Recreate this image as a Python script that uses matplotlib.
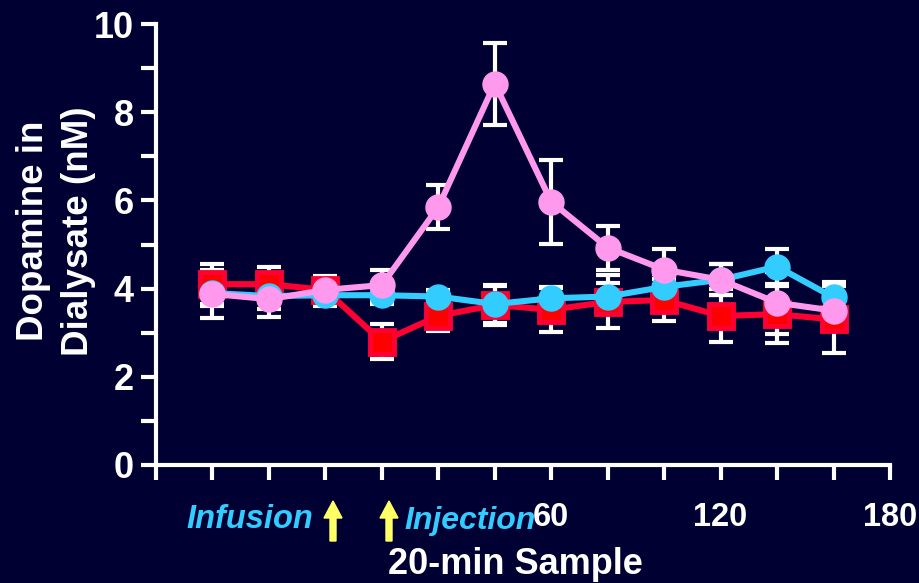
import matplotlib
matplotlib.use("Agg")
import matplotlib.pyplot as plt
import numpy as np

# ---- data ----
time_min = [-60, -40, -20, 0, 20, 40, 60, 80, 100, 120, 140, 160]
red_vals = [4.1, 4.1, 3.97, 2.8, 3.38, 3.63, 3.52, 3.7, 3.74, 3.38, 3.42, 3.3]
red_err = [0.45, 0.4, 0.3, 0.4, 0.35, 0.45, 0.5, 0.6, 0.47, 0.6, 0.65, 0.75]
blue_vals = [3.9, 3.83, 3.85, 3.85, 3.82, 3.65, 3.78, 3.82, 4.04, 4.2, 4.5, 3.8]
blue_err = [0.3, 0.3, 0.25, 0.2, 0.15, 0.42, 0.25, 0.3, 0.3, 0.35, 0.4, 0.36]
pink_vals = [3.88, 3.76, 3.97, 4.08, 5.85, 8.65, 5.97, 4.93, 4.43, 4.2, 3.68, 3.5]
pink_err = [0.55, 0.4, 0.32, 0.34, 0.5, 0.93, 0.95, 0.5, 0.47, 0.35, 0.7, 0.3]
y_ticks = [0, 2, 4, 6, 8, 10]
x_tick_labels = {60: "60", 120: "120", 180: "180"}

BG = "#000033"
RED = "#ff0033"
BLUE = "#33ccff"
PINK = "#ff99ee"
YEL = "#ffff66"

plt.rcParams['font.family'] = ['Liberation Sans', 'DejaVu Sans']
plt.rcParams['font.weight'] = 'bold'

fig = plt.figure(figsize=(9.19, 5.83), dpi=100, facecolor=BG)
W, H = 919, 583
L, R, T, B = 156, 890, 24, 465
ax = fig.add_axes([L / W, 1 - B / H, (R - L) / W, (B - T) / H], facecolor=BG)

ax.set_xlim(-80, 180)
ax.set_ylim(0, 10)

for vals, err in [(red_vals, red_err), (blue_vals, blue_err), (pink_vals, pink_err)]:
    ax.errorbar(time_min, vals, yerr=err, fmt='none', ecolor='white',
                elinewidth=3, capsize=8.5, capthick=3, zorder=2)

ax.plot(time_min, red_vals, color=RED, lw=4.4, marker='s', ms=17,
        mfc='#ff0000', mec=RED, mew=3.5, zorder=3)
ax.plot(time_min, blue_vals, color=BLUE, lw=4.4, marker='o', ms=18,
        mfc=BLUE, mec=BLUE, zorder=4)
ax.plot(time_min, pink_vals, color=PINK, lw=4.4, marker='o', ms=18,
        mfc=PINK, mec=PINK, zorder=5)

for s in ['top', 'right']:
    ax.spines[s].set_visible(False)
for s in ['left', 'bottom']:
    ax.spines[s].set_color('white')
    ax.spines[s].set_linewidth(3)
ax.spines['left'].set_bounds(0, 10)

ax.set_yticks(y_ticks)
ax.set_yticks([1, 3, 5, 7, 9], minor=True)
xt = list(range(-80, 181, 20))
ax.set_xticks(xt)
ax.set_xticklabels([x_tick_labels.get(v, "") for v in xt])
ax.tick_params(axis='both', which='both', colors='white', width=3, length=11,
               direction='out', pad=7)
ax.tick_params(axis='y', labelsize=26, pad=5)
ax.tick_params(axis='x', labelsize=23.5, pad=16)
for lab in ax.get_xticklabels() + ax.get_yticklabels():
    lab.set_fontweight('bold')

fig.text(515 / W, 1 - 564 / H, "20-min Sample", color='white', fontsize=26,
         fontweight='bold', ha='center', va='center')
fig.text(56 / W, 1 - 231 / H, "Dopamine in\nDialysate (nM)", color='white',
         fontsize=26.5, fontweight='bold', ha='center', va='center',
         rotation=90, linespacing=1.35)

fig.text(313 / W, 1 - 520 / H, "Infusion", color=BLUE, fontsize=23.5,
         fontweight='bold', style='italic', ha='right', va='center')
fig.text(404 / W, 1 - 521 / H, "Injection", color=BLUE, fontsize=23,
         fontweight='bold', style='italic', ha='left', va='center')
for xp in (333, 389):
    fig.patches.append(matplotlib.patches.FancyArrow(
        xp / W, 1 - 541 / H, 0, 40 / H, width=6 / W, head_width=18 / W,
        head_length=17 / H, length_includes_head=True, color=YEL,
        transform=fig.transFigure, figure=fig))

fig.savefig("out.png", dpi=100, facecolor=BG)
